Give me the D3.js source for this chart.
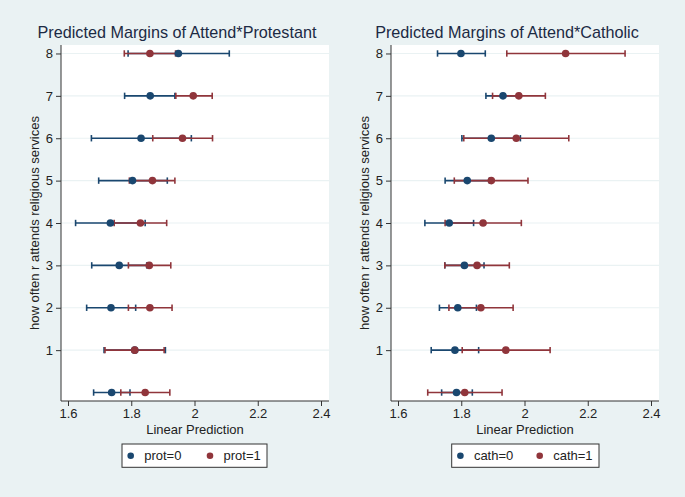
<!DOCTYPE html>
<html><head><meta charset="utf-8">
<script src="https://cdn.jsdelivr.net/npm/d3@7"></script>
<style>html,body{margin:0;padding:0;background:#eaf2f3;}svg{display:block;font-family:"Liberation Sans",Arial,sans-serif;}</style>
</head><body>
<svg id="chart" width="685" height="497"></svg>
<script>
// ---- data ----
const levels = [0, 1, 2, 3, 4, 5, 6, 7, 8];
const yTickValues = [1, 2, 3, 4, 5, 6, 7, 8];
const xTickValues = [1.6, 1.8, 2.0, 2.2, 2.4];
const xTickLabels = ["1.6", "1.8", "2", "2.2", "2.4"];

const prot0Mean = [1.738, 1.811, 1.736, 1.762, 1.734, 1.804, 1.831, 1.860, 1.949];
const prot0Lo   = [1.681, 1.714, 1.659, 1.675, 1.624, 1.697, 1.674, 1.779, 1.790];
const prot0Hi   = [1.796, 1.908, 1.814, 1.849, 1.844, 1.914, 1.990, 1.938, 2.110];
const prot1Mean = [1.844, 1.811, 1.859, 1.857, 1.829, 1.867, 1.962, 1.996, 1.859];
const prot1Lo   = [1.767, 1.717, 1.791, 1.791, 1.746, 1.794, 1.868, 1.941, 1.778];
const prot1Hi   = [1.922, 1.904, 1.929, 1.925, 1.912, 1.938, 2.057, 2.056, 1.940];

const cath0Mean = [1.785, 1.780, 1.789, 1.810, 1.762, 1.819, 1.895, 1.932, 1.799];
const cath0Lo   = [1.738, 1.705, 1.731, 1.748, 1.685, 1.749, 1.802, 1.878, 1.725];
const cath0Hi   = [1.835, 1.855, 1.848, 1.872, 1.839, 1.889, 1.987, 1.985, 1.876];
const cath1Mean = [1.811, 1.941, 1.862, 1.850, 1.869, 1.895, 1.974, 1.982, 2.130];
const cath1Lo   = [1.694, 1.803, 1.761, 1.748, 1.749, 1.778, 1.808, 1.899, 1.944];
const cath1Hi   = [1.929, 2.081, 1.964, 1.952, 1.990, 2.011, 2.140, 2.066, 2.318];

const panels = [
  {title: "Predicted Margins of Attend*Protestant", labels: ["prot=0", "prot=1"],
   series: [[prot0Mean, prot0Lo, prot0Hi], [prot1Mean, prot1Lo, prot1Hi]]},
  {title: "Predicted Margins of Attend*Catholic", labels: ["cath=0", "cath=1"],
   series: [[cath0Mean, cath0Lo, cath0Hi], [cath1Mean, cath1Lo, cath1Hi]]}
];
const colors = ["#1a476f", "#90353b"];
const yTitle = "how often r attends religious services";
const xTitle = "Linear Prediction";

// ---- drawing ----
const svg = d3.select("#chart");
svg.append("rect").attr("width", 685).attr("height", 497).attr("fill", "#eaf2f3");

panels.forEach((p, pi) => {
  const off = pi * 330;
  const x = d3.scaleLinear().domain([1.6, 2.4]).range([68 + off, 321 + off]);
  const y = d3.scaleLinear().domain([-0.2, 8.2]).range([401, 45]);
  const left = 61 + off, right = 329 + off, top = 45, bottom = 401;
  const g = svg.append("g");

  g.append("rect").attr("x", left).attr("y", top).attr("width", right - left).attr("height", bottom - top).attr("fill", "#fff");

  // gridlines
  g.selectAll(".grid").data(yTickValues).join("line")
    .attr("x1", left).attr("x2", right)
    .attr("y1", d => y(d)).attr("y2", d => y(d))
    .attr("stroke", "#eaf2f3").attr("stroke-width", 1.2);

  // axes
  const yAxis = d3.axisLeft(y).tickValues(yTickValues).tickSize(5).tickPadding(3).tickFormat(d3.format("d"));
  const ya = g.append("g").attr("transform", `translate(${left},0)`).call(yAxis);
  ya.select(".domain").attr("d", `M0,${top}V${bottom}`).attr("stroke", "#333");
  const xAxis = d3.axisBottom(x).tickValues(xTickValues).tickSize(5).tickPadding(3).tickFormat((d, i) => xTickLabels[i]);
  const xa = g.append("g").attr("transform", `translate(0,${bottom})`).call(xAxis);
  xa.select(".domain").attr("d", `M${left},0H${right}`).attr("stroke", "#333");
  [ya, xa].forEach(a => {
    a.selectAll(".tick line").attr("stroke", "#333");
    a.selectAll(".tick text").attr("font-size", 13).attr("fill", "#222")
      .attr("font-family", '"Liberation Sans",Arial,sans-serif');
  });

  // error bars (both series), then points
  const cap = 3.2;
  p.series.forEach((s, si) => {
    const [m, lo, hi] = s;
    const eg = g.append("g").attr("stroke", colors[si]).attr("stroke-width", 1.6).attr("fill", "none");
    eg.selectAll(".bar").data(levels).join("line")
      .attr("x1", (d, i) => x(lo[i])).attr("x2", (d, i) => x(hi[i]))
      .attr("y1", d => y(d)).attr("y2", d => y(d));
    eg.selectAll(".capl").data(levels).join("line")
      .attr("x1", (d, i) => x(lo[i])).attr("x2", (d, i) => x(lo[i]))
      .attr("y1", d => y(d) - cap).attr("y2", d => y(d) + cap);
    eg.selectAll(".caph").data(levels).join("line")
      .attr("x1", (d, i) => x(hi[i])).attr("x2", (d, i) => x(hi[i]))
      .attr("y1", d => y(d) - cap).attr("y2", d => y(d) + cap);
  });
  p.series.forEach((s, si) => {
    const m = s[0];
    g.append("g").selectAll("circle").data(levels).join("circle")
      .attr("cx", (d, i) => x(m[i])).attr("cy", d => y(d)).attr("r", 3.8)
      .attr("fill", colors[si]);
  });

  // titles
  const cx = (left + right) / 2;
  g.append("text").attr("x", 177 + off).attr("y", 38).attr("text-anchor", "middle")
    .attr("font-size", 16.2).attr("fill", "#1c2a44").text(p.title);
  g.append("text").attr("transform", `translate(${39 + off},${(top + bottom) / 2}) rotate(-90)`)
    .attr("text-anchor", "middle").attr("font-size", 13).attr("fill", "#222").text(yTitle);
  g.append("text").attr("x", cx).attr("y", 434).attr("text-anchor", "middle")
    .attr("font-size", 13).attr("fill", "#222").text(xTitle);

  // legend
  const lx = [122, 451.7][pi], lw = [145, 147.3][pi];
  const lg = g.append("g");
  lg.append("rect").attr("x", lx).attr("y", 444).attr("width", lw).attr("height", 23.3)
    .attr("fill", "#fff").attr("stroke", "#333").attr("stroke-width", 1);
  const itemOff = [8.7, 88];
  p.labels.forEach((lab, li) => {
    lg.append("circle").attr("cx", lx + itemOff[li]).attr("cy", 455.7).attr("r", 3.3).attr("fill", colors[li]);
    lg.append("text").attr("x", lx + itemOff[li] + 13.5).attr("y", 460.3).attr("font-size", 13)
      .attr("fill", "#222").text(lab);
  });
});
</script>
</body></html>
